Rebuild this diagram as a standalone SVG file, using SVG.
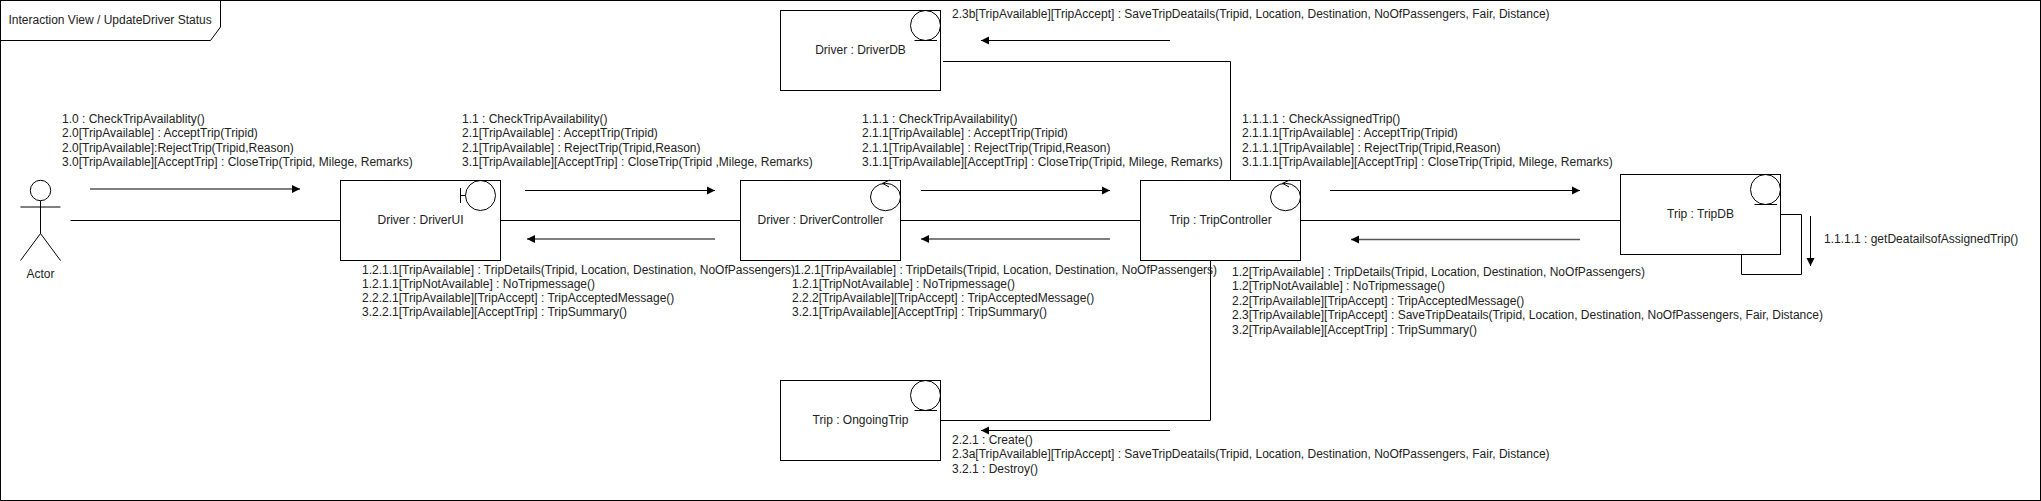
<svg xmlns="http://www.w3.org/2000/svg" width="2041" height="501" viewBox="0 0 2041 501">
<defs>
<marker id="ah" markerUnits="userSpaceOnUse" markerWidth="9" markerHeight="9" refX="8" refY="4.5" orient="auto"><path d="M0 0.5L8 4.5L0 8.500Z" fill="#000"/></marker>
</defs>
<style>
text{font-family:"Liberation Sans",Arial,sans-serif;font-size:12px;fill:#222}
.n{text-anchor:middle}
.s{fill:none;stroke:#000;stroke-width:1}
.b{fill:#fff;stroke:#000;stroke-width:1}
.a{fill:none;stroke:#000;stroke-width:1;marker-end:url(#ah)}
.g{stroke:#555;stroke-width:1.600}
</style>
<rect width="2041" height="501" fill="#fff"/>
<g id="frame">
<rect class="s" x="0.500" y="0.500" width="2040" height="500"/>
<path class="s" d="M0.500 40.500H210.500L220.500 27V0.500"/>
<text x="8.500" y="24">Interaction View / UpdateDriver Status</text>
</g>
<g id="connectors">
<path class="s" d="M70.500 220.500H340.500"/>
<path class="s" d="M500.500 220.500H740.500"/>
<path class="s" d="M900.500 220.500H1140.500"/>
<path class="s" d="M1300.500 220.500H1620.500"/>
<path class="s" d="M943 61.500H1230.500V180.500"/>
<path class="s" d="M940.500 420.500H1210.500V260.500"/>
<path class="s" d="M1780.500 214.500H1801.500V274.500H1741.500V254.500"/>
<path class="a g" d="M90 189H300"/>
<path class="a" d="M525 190.500H715"/>
<path class="a g" d="M715 239H527"/>
<path class="a" d="M921 190.500H1110"/>
<path class="a g" d="M1110 239H921"/>
<path class="a" d="M1330 190.500H1580"/>
<path class="a g" d="M1580 239.500H1351"/>
<path class="a" d="M1170 40.500H981"/>
<path class="a" d="M1170 430.500H981"/>
<path class="a" d="M1810.500 216V266"/>
</g>
<g id="actor">
<circle class="s" cx="40.500" cy="190.500" r="10.200"/>
<path class="s" d="M40.500 200.700V233.500M20.500 207H60.500M20.500 260.500L40.500 233.500L60.500 260.500"/>
<text class="n" x="40.500" y="278">Actor</text>
</g>
<g id="driver-ui">
<rect class="b" x="340.500" y="180.500" width="160" height="80"/>
<circle class="s" cx="480.500" cy="195.500" r="15"/>
<path class="s" d="M460.500 188V203M460.500 195.500H465.500"/>
<text class="n" x="420.500" y="224">Driver : DriverUI</text>
</g>
<g id="driver-controller">
<rect class="b" x="740.500" y="180.500" width="160" height="80"/>
<ellipse class="s" cx="885.500" cy="197" rx="15" ry="13.700"/>
<path class="s" d="M890 180L882.500 183.300L889 187"/>
<text class="n" x="820.500" y="224">Driver : DriverController</text>
</g>
<g id="trip-controller">
<rect class="b" x="1140.500" y="180.500" width="160" height="80"/>
<ellipse class="s" cx="1285.500" cy="197" rx="15" ry="13.700"/>
<path class="s" d="M1290 180L1282.500 183.300L1289 187"/>
<text class="n" x="1220.500" y="224">Trip : TripController</text>
</g>
<g id="trip-db">
<rect class="b" x="1620.500" y="174.500" width="160" height="80"/>
<circle class="s" cx="1765.500" cy="189.500" r="15"/>
<path class="s" d="M1754.500 204.500H1777"/>
<text class="n" x="1700.500" y="218">Trip : TripDB</text>
</g>
<g id="driver-db">
<rect class="b" x="780.500" y="10.500" width="160" height="80"/>
<circle class="s" cx="925.500" cy="25.500" r="15"/>
<path class="s" d="M914.500 40.500H937"/>
<text class="n" x="860.500" y="54">Driver : DriverDB</text>
</g>
<g id="ongoing-trip">
<rect class="b" x="780.500" y="380.500" width="160" height="80"/>
<circle class="s" cx="925.500" cy="395.500" r="15"/>
<path class="s" d="M914.500 410.500H937"/>
<text class="n" x="860.500" y="424">Trip : OngoingTrip</text>
</g>
<g id="labels">
<text x="62" y="123">1.0 : CheckTripAvailablity()</text>
<text x="62" y="137">2.0[TripAvailable] : AcceptTrip(Tripid)</text>
<text x="62" y="152">2.0[TripAvailable]:RejectTrip(Tripid,Reason)</text>
<text x="62" y="166">3.0[TripAvailable][AcceptTrip] : CloseTrip(Tripid, Milege, Remarks)</text>
<text x="462" y="123">1.1 : CheckTripAvailability()</text>
<text x="462" y="137">2.1[TripAvailable] : AcceptTrip(Tripid)</text>
<text x="462" y="152">2.1[TripAvailable] : RejectTrip(Tripid,Reason)</text>
<text x="462" y="166">3.1[TripAvailable][AcceptTrip] : CloseTrip(Tripid ,Milege, Remarks)</text>
<text x="862" y="123">1.1.1 : CheckTripAvailability()</text>
<text x="862" y="137">2.1.1[TripAvailable] : AcceptTrip(Tripid)</text>
<text x="862" y="152">2.1.1[TripAvailable] : RejectTrip(Tripid,Reason)</text>
<text x="862" y="166">3.1.1[TripAvailable][AcceptTrip] : CloseTrip(Tripid, Milege, Remarks)</text>
<text x="1242" y="123">1.1.1.1 : CheckAssignedTrip()</text>
<text x="1242" y="137">2.1.1.1[TripAvailable] : AcceptTrip(Tripid)</text>
<text x="1242" y="152">2.1.1.1[TripAvailable] : RejectTrip(Tripid,Reason)</text>
<text x="1242" y="166">3.1.1.1[TripAvailable][AcceptTrip] : CloseTrip(Tripid, Milege, Remarks)</text>
<text x="362" y="273.500">1.2.1.1[TripAvailable] : TripDetails(Tripid, Location, Destination, NoOfPassengers)</text>
<text x="362" y="287.500">1.2.1.1[TripNotAvailable] : NoTripmessage()</text>
<text x="362" y="302">2.2.2.1[TripAvailable][TripAccept] : TripAcceptedMessage()</text>
<text x="362" y="316">3.2.2.1[TripAvailable][AcceptTrip] : TripSummary()</text>
<text x="794" y="273.500">1.2.1[TripAvailable] : TripDetails(Tripid, Location, Destination, NoOfPassengers)</text>
<text x="792" y="287.500">1.2.1[TripNotAvailable] : NoTripmessage()</text>
<text x="792" y="302">2.2.2[TripAvailable][TripAccept] : TripAcceptedMessage()</text>
<text x="792" y="316">3.2.1[TripAvailable][AcceptTrip] : TripSummary()</text>
<text x="1232" y="276">1.2[TripAvailable] : TripDetails(Tripid, Location, Destination, NoOfPassengers)</text>
<text x="1232" y="290">1.2[TripNotAvailable] : NoTripmessage()</text>
<text x="1232" y="304.500">2.2[TripAvailable][TripAccept] : TripAcceptedMessage()</text>
<text x="1232" y="319">2.3[TripAvailable][TripAccept] : SaveTripDeatails(Tripid, Location, Destination, NoOfPassengers, Fair, Distance)</text>
<text x="1232" y="334">3.2[TripAvailable][AcceptTrip] : TripSummary()</text>
<text x="952" y="18">2.3b[TripAvailable][TripAccept] : SaveTripDeatails(Tripid, Location, Destination, NoOfPassengers, Fair, Distance)</text>
<text x="952" y="444">2.2.1 : Create()</text>
<text x="952" y="458">2.3a[TripAvailable][TripAccept] : SaveTripDeatails(Tripid, Location, Destination, NoOfPassengers, Fair, Distance)</text>
<text x="952" y="473">3.2.1 : Destroy()</text>
<text x="1824" y="243">1.1.1.1 : getDeatailsofAssignedTrip()</text>
</g>
</svg>
